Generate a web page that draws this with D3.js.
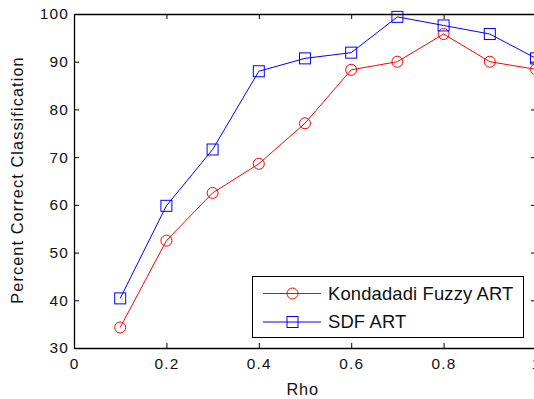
<!DOCTYPE html>
<html>
<head>
<meta charset="utf-8">
<script src="https://cdn.jsdelivr.net/npm/d3@7"></script>
<style>
  body { margin: 0; background: #fff; }
  svg { display: block; font-family: "Liberation Sans", Arial, sans-serif; }
</style>
</head>
<body>
<div id="chart"></div>
<script>
// values
const rho = [0.1, 0.2, 0.3, 0.4, 0.5, 0.6, 0.7, 0.8, 0.9, 1.0];
const kondadadi = [34.3, 52.5, 62.5, 68.6, 77.1, 88.3, 90.0, 95.8, 90.0, 88.4];
const sdf = [40.4, 59.8, 71.6, 88.0, 90.7, 91.9, 99.4, 97.6, 95.8, 90.7];
const xTicks = [0, 0.2, 0.4, 0.6, 0.8, 1];
const yTicks = [30, 40, 50, 60, 70, 80, 90, 100];
const seriesNames = ['Kondadadi Fuzzy ART', 'SDF ART'];

const W = 534, H = 399;
const margin = { top: 14, right: -2, bottom: 51, left: 74 };
const width = W - margin.left - margin.right;
const height = H - margin.top - margin.bottom;

const svg = d3.select('#chart')
  .append('svg')
  .attr('width', W)
  .attr('height', H);

const g = svg.append('g')
  .attr('transform', `translate(${margin.left},${margin.top})`);

const x = d3.scaleLinear().domain([0, 1]).range([0, width]);
const y = d3.scaleLinear().domain([30, 100]).range([height, 0]);

// axes, MATLAB style: ticks pointing inwards
const xAxis = g.append('g')
  .attr('transform', `translate(0,${height})`)
  .call(d3.axisBottom(x).tickValues(xTicks).tickSizeInner(-5).tickSizeOuter(0)
    .tickFormat(d => d === 0 || d === 1 ? d3.format('d')(d) : d3.format('.1f')(d)));
xAxis.selectAll('.tick text').attr('dy', '0.71em').attr('y', 10);

const yAxis = g.append('g')
  .call(d3.axisLeft(y).tickValues(yTicks).tickSizeInner(-5).tickSizeOuter(0));
yAxis.selectAll('.tick text').attr('x', -5);

// top and right box lines with ticks
const topAxis = g.append('g')
  .call(d3.axisTop(x).tickValues(xTicks).tickSizeInner(-5).tickSizeOuter(0).tickFormat(''));
const rightAxis = g.append('g')
  .attr('transform', `translate(${width},0)`)
  .call(d3.axisRight(y).tickValues(yTicks).tickSizeInner(-5).tickSizeOuter(0).tickFormat(''));

[xAxis, yAxis, topAxis, rightAxis].forEach(a => {
  a.selectAll('.domain').attr('stroke', '#000').attr('stroke-width', 1.3);
  a.selectAll('.tick line').attr('stroke', '#000');
  a.selectAll('.tick text')
    .attr('font-size', 15.4)
    .attr('letter-spacing', 1.2)
    .attr('fill', '#111');
});

const line = d3.line()
  .x((d, i) => x(rho[i]))
  .y(d => y(d));

// red series with circles
g.append('path')
  .datum(kondadadi)
  .attr('d', line)
  .attr('fill', 'none')
  .attr('stroke', '#ff0000')
  .attr('stroke-width', 1);
g.selectAll('.circ')
  .data(kondadadi)
  .enter()
  .append('circle')
  .attr('cx', (d, i) => x(rho[i]))
  .attr('cy', d => y(d))
  .attr('r', 5.5)
  .attr('fill', 'none')
  .attr('stroke', '#ff0000');

// blue series with squares
g.append('path')
  .datum(sdf)
  .attr('d', line)
  .attr('fill', 'none')
  .attr('stroke', '#0000ff')
  .attr('stroke-width', 1);
g.selectAll('.sq')
  .data(sdf)
  .enter()
  .append('rect')
  .attr('x', (d, i) => x(rho[i]) - 5.5)
  .attr('y', d => y(d) - 5.5)
  .attr('width', 11)
  .attr('height', 11)
  .attr('fill', 'none')
  .attr('stroke', '#0000ff');

// legend
const legend = svg.append('g');
legend.append('rect')
  .attr('x', 252.5).attr('y', 276.5)
  .attr('width', 271).attr('height', 61)
  .attr('fill', '#fff').attr('stroke', '#000').attr('stroke-width', 1);
const colors = ['#ff0000', '#0000ff'];
seriesNames.forEach((name, i) => {
  const ly = 293.5 + i * 28.5;
  legend.append('line')
    .attr('x1', 263).attr('x2', 321).attr('y1', ly).attr('y2', ly)
    .attr('stroke', colors[i]);
  if (i === 0) {
    legend.append('circle').attr('cx', 292.5).attr('cy', ly).attr('r', 5.5)
      .attr('fill', 'none').attr('stroke', colors[i]);
  } else {
    legend.append('rect').attr('x', 287).attr('y', ly - 5.5).attr('width', 11).attr('height', 11)
      .attr('fill', 'none').attr('stroke', colors[i]);
  }
  legend.append('text')
    .attr('x', 328).attr('y', ly)
    .attr('dy', '0.35em')
    .attr('font-size', 18.4)
    .attr('letter-spacing', 0.15)
    .attr('fill', '#111')
    .text(name);
});

// axis titles
svg.append('text')
  .attr('x', margin.left + x(0.495))
  .attr('y', 395)
  .attr('text-anchor', 'middle')
  .attr('font-size', 16.3)
  .attr('letter-spacing', 0.9)
  .attr('fill', '#111')
  .text('Rho');

svg.append('text')
  .attr('transform', `translate(23,180) rotate(-90)`)
  .attr('text-anchor', 'middle')
  .attr('font-size', 16.3)
  .attr('letter-spacing', 1.1)
  .attr('fill', '#111')
  .text('Percent Correct Classification');
</script>
</body>
</html>
